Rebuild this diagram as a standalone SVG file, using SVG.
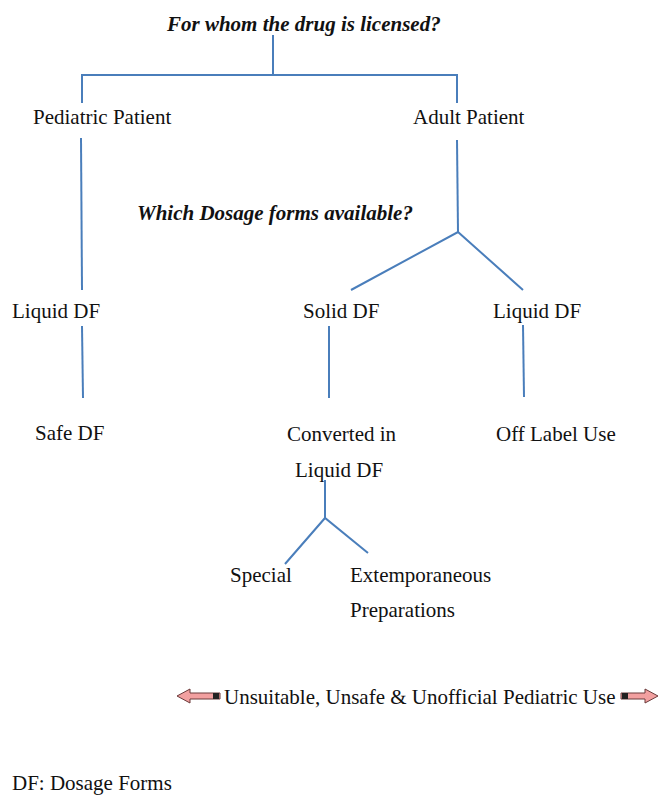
<svg xmlns="http://www.w3.org/2000/svg" width="661" height="799" viewBox="0 0 661 799">
<style>
text{font-family:"Liberation Serif","Times New Roman",serif;font-size:21px;fill:#111}
.q{font-weight:bold;font-style:italic}
.c line,.c polyline{stroke:#4a7ebb;stroke-width:2;fill:none}
.arr{fill:#f2a0a0;stroke:#6b3a3a;stroke-width:1}
.band{fill:#222}
</style>
<rect width="661" height="799" fill="#fff"/>
<g id="q1"><text class="q" x="167" y="31">For whom the drug is licensed?</text></g>
<g id="q2"><text class="q" x="137" y="220">Which Dosage forms available?</text></g>
<g id="pediatric"><text x="33" y="124">Pediatric Patient</text></g>
<g id="adult"><text x="413" y="124">Adult Patient</text></g>
<g id="liquid-left"><text x="12" y="318">Liquid DF</text></g>
<g id="safe"><text x="35" y="440">Safe DF</text></g>
<g id="solid"><text x="303" y="318">Solid DF</text></g>
<g id="liquid-right"><text x="493" y="318">Liquid DF</text></g>
<g id="converted"><text x="287" y="441">Converted in</text><text x="295" y="477">Liquid DF</text></g>
<g id="offlabel"><text x="496" y="441">Off Label Use</text></g>
<g id="special"><text x="230" y="582">Special</text></g>
<g id="extemp"><text x="350" y="582">Extemporaneous</text><text x="350" y="617">Preparations</text></g>
<g id="unsuitable">
<polygon class="arr" points="177,696 190,689 190,693 220,693 220,699 190,699 190,703"/>
<rect class="band" x="213" y="693" width="6" height="6"/>
<text x="224" y="704">Unsuitable, Unsafe &amp; Unofficial Pediatric Use</text>
<polygon class="arr" points="658,696 645,689 645,693 621,693 621,699 645,699 645,703"/>
<rect class="band" x="622" y="693" width="6" height="6"/>
</g>
<g id="legend"><text x="12" y="790">DF: Dosage Forms</text></g>
<g id="connectors" class="c">
<line x1="273" y1="35" x2="273" y2="75"/>
<polyline points="82,103 82,75 457,75 457,103"/>
<line x1="81" y1="138" x2="82" y2="290"/>
<line x1="82" y1="326" x2="83" y2="398"/>
<line x1="457" y1="140" x2="458" y2="232"/>
<polyline points="351,290 458,232 523,290"/>
<line x1="329" y1="326" x2="329" y2="398"/>
<line x1="523" y1="325" x2="524" y2="397"/>
<line x1="325" y1="480" x2="325" y2="518"/>
<polyline points="285,564 325,518 368,553"/>
</g>
</svg>
